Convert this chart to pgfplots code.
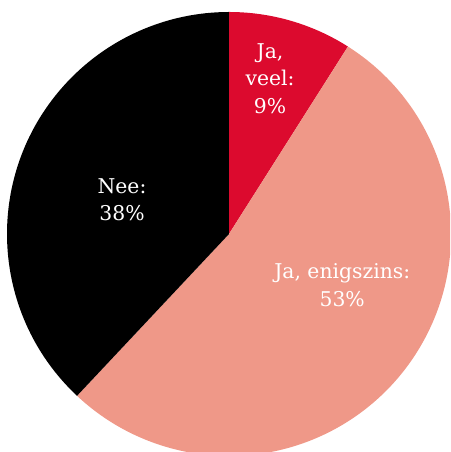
\documentclass[border=0pt]{standalone}
\usepackage{pgfplots}
\pgfplotsset{compat=1.18}
\usepackage{pgfplotstable}
\usepackage{fontspec}
\setmainfont{DejaVu Serif}
\definecolor{cRed}{HTML}{DC0A2E}
\definecolor{cSalmon}{HTML}{EF9888}
\definecolor{cBlack}{HTML}{000000}
\pgfplotstableread[col sep=comma]{
label,value,color,lx,ly
{Ja,\\veel:\\9\%},9,cRed,0.185,0.70
{Ja, enigszins:\\53\%},53,cSalmon,0.510,-0.230
{Nee:\\38\%},38,cBlack,-0.482,0.155
}\pietable
\def\rr{4.9116cm}
\begin{document}
\begin{tikzpicture}
\begin{axis}[
  scale only axis, width=9.956cm, height=10cm,
  xmin=-1.0315, xmax=0.9955, ymin=-0.982, ymax=1.054,
  hide axis, clip=true,
]
\pgfplotsextra{%
\pgfplotstablegetrowsof{\pietable}%
\pgfmathtruncatemacro{\nrows}{\pgfplotsretval-1}%
\xdef\cumangle{90}%
\foreach \i in {0,...,\nrows}{
  \pgfplotstablegetelem{\i}{value}\of{\pietable}\let\v\pgfplotsretval
  \pgfplotstablegetelem{\i}{color}\of{\pietable}\let\c\pgfplotsretval
  \pgfmathsetmacro{\endangle}{\cumangle-3.6*\v}
  \fill[\c] (axis cs:0,0) -- (axis cs:{cos(\cumangle)},{sin(\cumangle)}) arc[start angle=\cumangle, end angle=\endangle, radius=\rr] -- cycle;
  \xdef\cumangle{\endangle}
}
\foreach \i in {0,...,\nrows}{
  \pgfplotstablegetelem{\i}{label}\of{\pietable}\let\lab\pgfplotsretval
  \pgfplotstablegetelem{\i}{lx}\of{\pietable}\let\lx\pgfplotsretval
  \pgfplotstablegetelem{\i}{ly}\of{\pietable}\let\ly\pgfplotsretval
  \node[white, align=center, font=\fontsize{12.8}{17.2}\selectfont] at (axis cs:\lx,\ly) {\lab};
}%
}
\end{axis}
\pgfresetboundingbox
\useasboundingbox (current axis.south west) rectangle (current axis.north east);
\end{tikzpicture}
\end{document}
